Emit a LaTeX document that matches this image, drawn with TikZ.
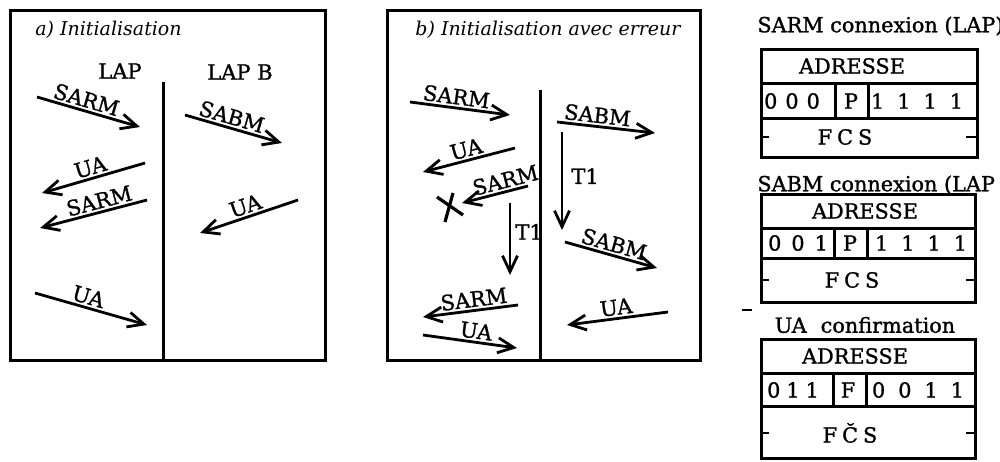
\documentclass[tikz,border=0pt]{standalone}
\usepackage{fontspec}
\setmainfont{DejaVu Serif}
\newfontfamily\lblfont{DejaVu Serif}[FakeBold=1.2]
\usetikzlibrary{arrows.meta}
\begin{document}
\begin{tikzpicture}[x=0.5pt,y=-0.5pt,
  panel/.style={draw, line width=1.5pt},
  axisline/.style={line width=1.5pt},
  msg/.style={line width=1.4pt, -{Straight Barb[length=8pt,width=7.5pt,line width=1.4pt]}},
  lbl/.style={font=\lblfont\fontsize{10.5}{12}\selectfont, inner sep=1pt},
  ttl/.style={font=\fontsize{9.5}{11}\selectfont\itshape, inner sep=0pt},
  hdr/.style={font=\lblfont\fontsize{10.4}{12}\selectfont, inner sep=0pt},
  cell/.style={font=\lblfont\fontsize{10.4}{12}\selectfont, inner sep=0pt},
  tick/.style={line width=1.4pt},
  cross/.style={line width=1.6pt}
]
\useasboundingbox (0,0) rectangle (1000,461);

% ---------------- panel a ----------------
\draw[panel] (10,10) rectangle (325,360);
\node[ttl, anchor=west] (ta) at (35,30) {a) Initialisation};
\node[lbl] (lapa) at (120,71) {LAP};
\node[lbl] (lapb) at (240,72) {LAP B};
\coordinate (va1) at (163,82);
\coordinate (va2) at (163,360);
\draw[axisline] (va1) -- (va2);

\coordinate (a1s) at (37,97);   \coordinate (a1e) at (140,127);
\coordinate (a2s) at (185,115); \coordinate (a2e) at (282,143);
\coordinate (a3s) at (145,163); \coordinate (a3e) at (42,193);
\coordinate (a4s) at (147,200); \coordinate (a4e) at (40,228);
\coordinate (a5s) at (298,200); \coordinate (a5e) at (200,233);
\coordinate (a6s) at (35,293);  \coordinate (a6e) at (147,325);
\draw[msg] (a1s) -- node[lbl, pos=0.45, above, sloped] (la1) {SARM} (a1e);
\draw[msg] (a2s) -- node[lbl, pos=0.45, above, sloped] (la2) {SABM} (a2e);
\draw[msg] (a3s) -- node[lbl, midway, above, sloped] (la3) {UA} (a3e);
\draw[msg] (a4s) -- node[lbl, pos=0.42, above, sloped] (la4) {SARM} (a4e);
\draw[msg] (a5s) -- node[lbl, midway, above, sloped] (la5) {UA} (a5e);
\draw[msg] (a6s) -- node[lbl, pos=0.45, above, sloped] (la6) {UA} (a6e);

% ---------------- panel b ----------------
\draw[panel] (387,10) rectangle (700,360);
\node[ttl, anchor=west] (tb) at (415,30) {b) Initialisation avec erreur};
\coordinate (vb1) at (540,90);
\coordinate (vb2) at (540,360);
\draw[axisline] (vb1) -- (vb2);

\coordinate (b1s) at (410,102); \coordinate (b1e) at (510,115);
\coordinate (b2s) at (557,122); \coordinate (b2e) at (655,133);
\coordinate (b3s) at (562,132); \coordinate (b3e) at (562,230);
\coordinate (b4s) at (515,148); \coordinate (b4e) at (423,172);
\coordinate (b5s) at (528,186); \coordinate (b5e) at (462,203);
\coordinate (b6s) at (510,203); \coordinate (b6e) at (510,275);
\coordinate (b7s) at (565,242); \coordinate (b7e) at (657,268);
\coordinate (b8s) at (668,312); \coordinate (b8e) at (567,325);
\coordinate (b9s) at (518,305); \coordinate (b9e) at (423,317);
\coordinate (b10s) at (423,335); \coordinate (b10e) at (517,348);

\draw[msg] (b1s) -- node[lbl, pos=0.45, above, sloped] (lb1) {SARM} (b1e);
\draw[msg] (b2s) -- node[lbl, pos=0.4, above, sloped] (lb2) {SABM} (b2e);
\draw[msg] (b3s) -- node[lbl, pos=0.45, right, inner sep=4pt] (lb3) {T1} (b3e);
\draw[msg] (b4s) -- node[lbl, midway, above, sloped] (lb4) {UA} (b4e);
\draw[msg] (b5s) -- node[lbl, pos=0.3, above, sloped] (lb5) {SARM} (b5e);
\draw[msg] (b6s) -- node[lbl, pos=0.4, right, inner sep=2pt] (lb6) {T1} (b6e);
\draw[msg] (b7s) -- node[lbl, pos=0.5, above, sloped] (lb7) {SABM} (b7e);
\draw[msg] (b8s) -- node[lbl, pos=0.5, above, sloped] (lb8) {UA} (b8e);
\draw[msg] (b9s) -- node[lbl, pos=0.45, above, sloped] (lb9) {SARM} (b9e);
\draw[msg] (b10s) -- node[lbl, pos=0.55, above, sloped] (lb10) {UA} (b10e);

\coordinate (x1) at (437,197); \coordinate (x2) at (463,215);
\coordinate (x3) at (453,193); \coordinate (x4) at (445,222);
\draw[cross] (x1) -- (x2);
\draw[cross] (x3) -- (x4);

% ---------------- frames ----------------
% frame 1
\node[hdr, anchor=west] (f1t) at (757,26) {SARM connexion (LAP)};
\draw[panel] (761,49) rectangle (977,157);
\draw[panel] (761,83) -- (977,83);
\draw[panel] (761,118) -- (977,118);
\draw[panel] (835,83) -- (835,118);
\draw[panel] (868,83) -- (868,118);
\node[cell] (f1a) at (852,66) {ADRESSE};
\node[cell] (f1b) at (792,101) {0\hspace{4pt}0\hspace{4pt}0};
\node[cell] (f1c) at (851,101) {P};
\node[cell] (f1d) at (917,101) {1\hspace{6.5pt}1\hspace{6.5pt}1\hspace{6.5pt}1};
\node[cell] (f1e) at (845,137) {F\hspace{2.5pt}C\hspace{2.5pt}S};
\draw[tick] (761,137) -- (769,137);
\draw[tick] (966,137) -- (977,137);

% frame 2
\node[hdr, anchor=west] (f2t) at (757,185) {SABM connexion (LAP};
\draw[panel] (761,194) rectangle (975,302);
\draw[panel] (761,228) -- (975,228);
\draw[panel] (761,258) -- (975,258);
\draw[panel] (834,228) -- (834,258);
\draw[panel] (867,228) -- (867,258);
\node[cell] (f2a) at (865,211) {ADRESSE};
\node[cell] (f2b) at (798,243) {0\hspace{5pt}0\hspace{5pt}1};
\node[cell] (f2c) at (850,243) {P};
\node[cell] (f2d) at (921,243) {1\hspace{6.5pt}1\hspace{6.5pt}1\hspace{6.5pt}1};
\node[cell] (f2e) at (852,280) {F\hspace{2.5pt}C\hspace{2.5pt}S};
\draw[tick] (761,280) -- (769,280);
\draw[tick] (966,280) -- (975,280);

% stray mark
\draw[tick] (742,310) -- (752,310);

% frame 3
\node[hdr] (f3t) at (865,325) {UA\hspace{7pt}confirmation};
\draw[panel] (761,339) rectangle (975,458);
\draw[panel] (761,373) -- (975,373);
\draw[panel] (761,406) -- (975,406);
\draw[panel] (833,373) -- (833,406);
\draw[panel] (866,373) -- (866,406);
\node[cell] (f3a) at (855,356) {ADRESSE};
\node[cell] (f3b) at (793,390) {0\hspace{3pt}1\hspace{3pt}1};
\node[cell] (f3c) at (848,390) {F};
\node[cell] (f3d) at (918,390) {0\hspace{6.5pt}0\hspace{6.5pt}1\hspace{6.5pt}1};
\node[cell] (f3e) at (850,433) {F\hspace{2.5pt}\u{C}\hspace{2.5pt}S};
\draw[tick] (761,433) -- (769,433);
\draw[tick] (966,433) -- (975,433);
\end{tikzpicture}
\end{document}
